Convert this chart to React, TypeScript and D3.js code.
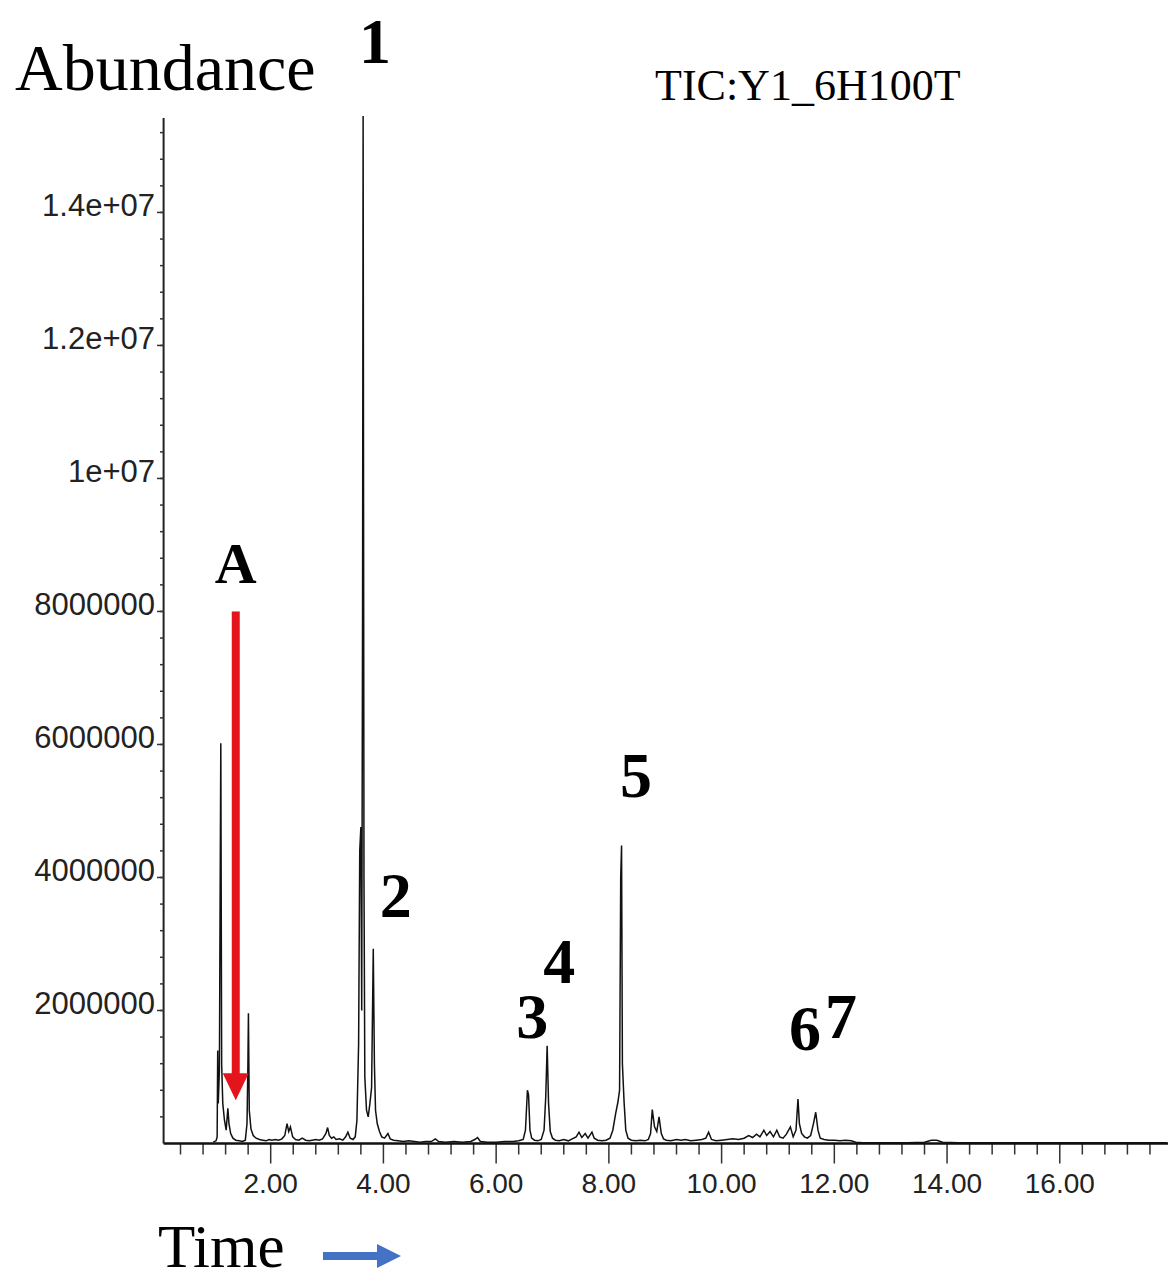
import React, { useEffect, useRef } from 'react';
import * as d3 from 'd3';

// TIC trace: retention time (min) and abundance (millions of counts)
const retentionTime = [
  0.98, 1.03, 1.05, 1.06, 1.07, 1.09, 1.10, 1.115, 1.13, 1.15, 1.18, 1.21, 1.24, 1.26, 1.29, 1.33,
  1.38, 1.44, 1.50, 1.55, 1.58, 1.595, 1.605, 1.62, 1.65, 1.69, 1.74, 1.80, 1.86, 1.92, 1.97, 2.02,
  2.08, 2.14, 2.20, 2.25, 2.29, 2.32, 2.35, 2.39, 2.44, 2.50, 2.56, 2.62, 2.68, 2.74, 2.80, 2.86,
  2.92, 2.98, 3.01, 3.04, 3.08, 3.12, 3.16, 3.22, 3.28, 3.33, 3.37, 3.41, 3.46, 3.50, 3.53, 3.56,
  3.58, 3.60, 3.615, 3.63, 3.64, 3.655, 3.67, 3.70, 3.73, 3.76, 3.79, 3.82, 3.84, 3.86, 3.89, 3.93,
  3.97, 4.02, 4.08, 4.12, 4.18, 4.26, 4.35, 4.45, 4.55, 4.65, 4.75, 4.85, 4.92, 4.98, 5.10, 5.25,
  5.40, 5.55, 5.62, 5.67, 5.72, 5.85, 6.00, 6.15, 6.30, 6.40, 6.48, 6.52, 6.555, 6.575, 6.60, 6.63,
  6.68, 6.74, 6.80, 6.85, 6.88, 6.905, 6.93, 6.96, 7.00, 7.05, 7.12, 7.20, 7.28, 7.35, 7.42, 7.47,
  7.52, 7.58, 7.63, 7.70, 7.74, 7.80, 7.88, 7.95, 8.02, 8.07, 8.12, 8.16, 8.19, 8.21, 8.225, 8.24,
  8.27, 8.30, 8.34, 8.40, 8.48, 8.56, 8.64, 8.70, 8.74, 8.77, 8.81, 8.85, 8.89, 8.93, 8.97, 9.02,
  9.10, 9.20, 9.28, 9.36, 9.45, 9.55, 9.65, 9.72, 9.77, 9.82, 9.90, 10.00, 10.10, 10.20, 10.30, 10.40,
  10.48, 10.55, 10.62, 10.68, 10.75, 10.80, 10.86, 10.92, 10.98, 11.03, 11.09, 11.15, 11.22, 11.27, 11.32, 11.355,
  11.38, 11.42, 11.47, 11.52, 11.58, 11.63, 11.67, 11.71, 11.75, 11.82, 11.90, 12.00, 12.10, 12.20, 12.30, 12.38,
  12.50, 12.70, 13.00, 13.30, 13.60, 13.72, 13.82, 13.92, 14.20, 15.00, 16.00, 17.00, 17.90,
];
const abundanceM = [
  0.02, 0.04, 0.10, 1.40, 0.60, 1.10, 3.13, 6.02, 1.20, 0.60, 0.35, 0.20, 0.53, 0.30, 0.15, 0.08,
  0.05, 0.04, 0.03, 0.05, 0.30, 1.14, 1.96, 0.50, 0.22, 0.12, 0.08, 0.06, 0.05, 0.04, 0.06, 0.05,
  0.06, 0.05, 0.07, 0.12, 0.30, 0.18, 0.25, 0.10, 0.06, 0.05, 0.08, 0.05, 0.04, 0.05, 0.06, 0.05,
  0.07, 0.15, 0.24, 0.12, 0.08, 0.10, 0.06, 0.07, 0.05, 0.10, 0.17, 0.08, 0.06, 0.10, 0.35, 1.50,
  4.40, 4.76, 2.00, 8.00, 15.45, 4.00, 1.00, 0.50, 0.40, 0.60, 0.84, 2.93, 1.20, 0.50, 0.30, 0.18,
  0.10, 0.08, 0.15, 0.07, 0.05, 0.04, 0.03, 0.04, 0.03, 0.02, 0.03, 0.03, 0.07, 0.03, 0.02, 0.03,
  0.02, 0.03, 0.06, 0.09, 0.03, 0.02, 0.02, 0.03, 0.03, 0.04, 0.06, 0.20, 0.80, 0.73, 0.20, 0.08,
  0.05, 0.04, 0.06, 0.20, 0.70, 1.47, 0.60, 0.18, 0.08, 0.05, 0.04, 0.06, 0.04, 0.07, 0.10, 0.17,
  0.09, 0.15, 0.08, 0.17, 0.08, 0.05, 0.04, 0.05, 0.08, 0.20, 0.45, 0.62, 0.80, 4.00, 4.48, 1.20,
  0.62, 0.20, 0.08, 0.05, 0.04, 0.05, 0.04, 0.06, 0.15, 0.51, 0.25, 0.18, 0.40, 0.15, 0.07, 0.05,
  0.04, 0.06, 0.05, 0.06, 0.04, 0.05, 0.06, 0.08, 0.17, 0.06, 0.04, 0.05, 0.06, 0.07, 0.06, 0.08,
  0.12, 0.09, 0.14, 0.10, 0.20, 0.12, 0.18, 0.10, 0.20, 0.10, 0.08, 0.14, 0.25, 0.10, 0.20, 0.67,
  0.30, 0.15, 0.10, 0.08, 0.12, 0.30, 0.47, 0.20, 0.08, 0.06, 0.05, 0.05, 0.04, 0.05, 0.04, 0.02,
  0.01, 0.01, 0.01, 0.01, 0.02, 0.05, 0.05, 0.02, 0.01, 0.01, 0.01, 0.01, 0.01,
];

const yTickValues = [2, 4, 6, 8, 10, 12, 14];
const yTickLabels = ['2000000', '4000000', '6000000', '8000000', '1e+07', '1.2e+07', '1.4e+07'];
const xTickValues = [2, 4, 6, 8, 10, 12, 14, 16];
const xTickLabels = ['2.00', '4.00', '6.00', '8.00', '10.00', '12.00', '14.00', '16.00'];

// peak numbers, placed in data coordinates (time, abundance of the text baseline)
const peakNames = ['1', '2', '3', '4', '5', '6', '7'];
const peakNameTime = [3.85, 4.22, 6.64, 7.12, 8.48, 11.48, 12.12];
const peakNameAbund = [16.25, 3.41, 1.59, 2.41, 5.21, 1.41, 1.59];

// red arrow "A"
const arrowTime = 1.38;
const arrowFrom = 8.0;
const arrowTo = 0.65;

const App = () => {
  const svgRef = useRef(null);

  useEffect(() => {
    document.body.style.margin = '0';
    const svg = d3.select(svgRef.current);
    svg.selectAll('*').remove();

    const x = d3.scaleLinear().domain([0.1, 17.92]).range([163.6, 1168]);
    const y = d3.scaleLinear().domain([0, 15.42]).range([1143.5, 118]);

    const serif = '"Liberation Serif", "Times New Roman", serif';
    const sans = '"Liberation Sans", Arial, sans-serif';

    // y axis
    const gy = svg.append('g');
    gy.append('line')
      .attr('x1', 163.6).attr('x2', 163.6)
      .attr('y1', y(15.42)).attr('y2', y(0))
      .attr('stroke', '#222').attr('stroke-width', 2);
    const yMinor = d3.range(0.4, 15.4, 0.4);
    gy.selectAll('.ymin')
      .data(yMinor)
      .enter().append('line')
      .attr('x1', 160).attr('x2', 163.6)
      .attr('y1', d => y(d)).attr('y2', d => y(d))
      .attr('stroke', '#333').attr('stroke-width', 1.5);
    gy.selectAll('.ymaj')
      .data(yTickValues)
      .enter().append('line')
      .attr('x1', 157).attr('x2', 163.6)
      .attr('y1', d => y(d)).attr('y2', d => y(d))
      .attr('stroke', '#333').attr('stroke-width', 1.5);
    gy.selectAll('.ylab')
      .data(yTickValues)
      .enter().append('text')
      .attr('x', 155)
      .attr('y', d => y(d) + 4)
      .attr('text-anchor', 'end')
      .attr('font-family', sans)
      .attr('font-size', 31)
      .attr('fill', '#222')
      .text((d, i) => yTickLabels[i]);

    // x axis
    const gx = svg.append('g');
    const xMinor = d3.range(1, 45).map(i => i * 0.4);
    gx.selectAll('.xmin')
      .data(xMinor)
      .enter().append('line')
      .attr('x1', d => x(d)).attr('x2', d => x(d))
      .attr('y1', y(0)).attr('y2', d => y(0) + (Math.abs(d / 2 - Math.round(d / 2)) < 1e-6 ? 20 : 11))
      .attr('stroke', '#333').attr('stroke-width', 1.5);
    gx.selectAll('.xlab')
      .data(xTickValues)
      .enter().append('text')
      .attr('x', d => x(d))
      .attr('y', 1193)
      .attr('text-anchor', 'middle')
      .attr('font-family', sans)
      .attr('font-size', 28)
      .attr('fill', '#222')
      .text((d, i) => xTickLabels[i]);

    // TIC trace
    const points = retentionTime.map((t, i) => [t, abundanceM[i]]);
    const line = d3.line()
      .x(d => x(d[0]))
      .y(d => y(d[1]));
    svg.append('path')
      .datum(points)
      .attr('d', line)
      .attr('fill', 'none')
      .attr('stroke', '#111')
      .attr('stroke-width', 1.5)
      .attr('stroke-linejoin', 'miter');

    gx.append('line')
      .attr('x1', 163.6).attr('x2', 1168)
      .attr('y1', y(0)).attr('y2', y(0))
      .attr('stroke', '#111').attr('stroke-width', 2.5);

    // red arrow
    const ax = x(arrowTime);
    svg.append('rect')
      .attr('x', ax - 4).attr('width', 8)
      .attr('y', y(arrowFrom)).attr('height', y(arrowTo) - 26 - y(arrowFrom))
      .attr('fill', '#e3141b');
    svg.append('path')
      .attr('d', `M${ax - 13},${y(arrowTo) - 27} L${ax + 13},${y(arrowTo) - 27} L${ax},${y(arrowTo)} Z`)
      .attr('fill', '#e3141b');
    svg.append('text')
      .attr('x', ax).attr('y', y(8.43))
      .attr('text-anchor', 'middle')
      .attr('font-family', serif).attr('font-weight', 'bold')
      .attr('font-size', 58)
      .text('A');

    // peak numbers
    svg.selectAll('.peak')
      .data(peakNames)
      .enter().append('text')
      .attr('x', (d, i) => x(peakNameTime[i]))
      .attr('y', (d, i) => y(peakNameAbund[i]))
      .attr('text-anchor', 'middle')
      .attr('font-family', serif).attr('font-weight', 'bold')
      .attr('font-size', 64)
      .text(d => d);

    // titles
    svg.append('text')
      .attr('x', 15).attr('y', 90)
      .attr('font-family', serif).attr('font-size', 66)
      .text('Abundance');
    svg.append('text')
      .attr('x', 655).attr('y', 100)
      .attr('font-family', serif).attr('font-size', 44)
      .text('TIC:Y1_6H100T');
    svg.append('text')
      .attr('x', 158).attr('y', 1267)
      .attr('font-family', serif).attr('font-size', 61)
      .text('Time');

    // blue arrow next to Time
    svg.append('rect')
      .attr('x', 323).attr('y', 1252).attr('width', 57).attr('height', 8)
      .attr('fill', '#4472c4');
    svg.append('path')
      .attr('d', 'M377,1244 L401,1256 L377,1268 Z')
      .attr('fill', '#4472c4');
  }, []);

  return (
    <svg ref={svgRef} width={1168} height={1281} style={{ display: 'block', background: '#fff' }}></svg>
  );
};

export default App;
